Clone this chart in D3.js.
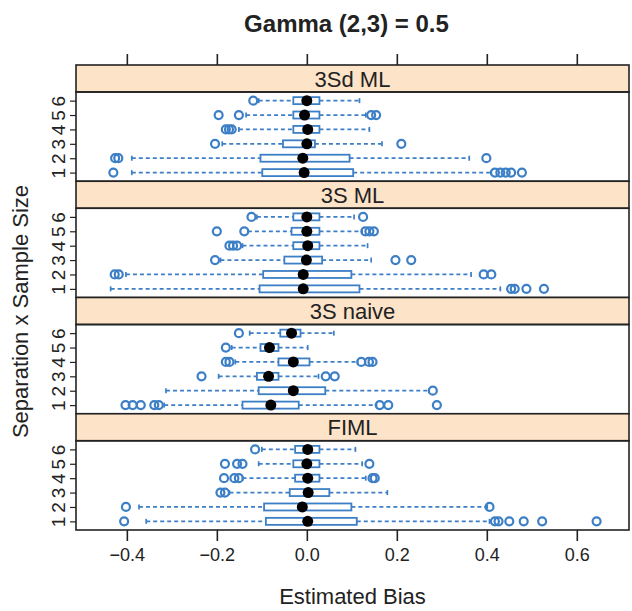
<!DOCTYPE html>
<html>
<head>
<meta charset="utf-8">
<script src="https://cdn.jsdelivr.net/npm/d3@7"></script>
<style>
  body { margin: 0; background: #fff; }
  text { font-family: "Liberation Sans", Arial, sans-serif; }
</style>
</head>
<body>
<div id="container"></div>
<script>
/* DATA */
const panels = ["3Sd ML", "3S ML", "3S naive", "FIML"];
const sizes = ["1", "2", "3", "4", "5", "6"];
const xTicks = [-0.4, -0.2, 0.0, 0.2, 0.4, 0.6];

// per row (1..6): [low whisker, q1, median, q3, high whisker]
const statsSdML = [
  [-0.389, -0.099, -0.006, 0.103, 0.41],
  [-0.389, -0.103, -0.009, 0.095, 0.361],
  [-0.188, -0.053, 0.0, 0.018, 0.167],
  [-0.151, -0.03, 0.002, 0.028, 0.139],
  [-0.135, -0.03, -0.005, 0.028, 0.131],
  [-0.107, -0.03, 0.0, 0.028, 0.117]
];
const outSdML = [
  [-0.43, 0.418, 0.43, 0.442, 0.454, 0.478],
  [-0.426, -0.419, 0.399],
  [-0.204, 0.21],
  [-0.18, -0.173, -0.167],
  [-0.196, -0.151, 0.143, 0.154],
  [-0.119]
];

const statsSML = [
  [-0.436, -0.105, -0.008, 0.117, 0.43],
  [-0.402, -0.097, -0.008, 0.099, 0.365],
  [-0.192, -0.05, -0.001, 0.034, 0.143],
  [-0.143, -0.03, 0.002, 0.028, 0.135],
  [-0.131, -0.034, 0.0, 0.028, 0.123],
  [-0.111, -0.03, 0.0, 0.028, 0.105]
];
const outSML = [
  [0.454, 0.462, 0.488, 0.527],
  [-0.427, -0.418, 0.393, 0.41],
  [-0.204, 0.197, 0.232],
  [-0.172, -0.164, -0.155],
  [-0.2, -0.139, 0.13, 0.139, 0.149],
  [-0.123, 0.125]
];

const statsNaive = [
  [-0.317, -0.143, -0.08, -0.018, 0.155],
  [-0.313, -0.107, -0.03, 0.041, 0.272],
  [-0.196, -0.111, -0.085, -0.063, 0.026],
  [-0.159, -0.063, -0.03, 0.006, 0.113],
  [-0.167, -0.103, -0.083, -0.063, 0.002],
  [-0.127, -0.059, -0.034, -0.014, 0.06]
];
const outNaive = [
  [-0.403, -0.387, -0.369, -0.339, -0.329, 0.162, 0.181, 0.289],
  [0.28],
  [-0.234, 0.042, 0.062],
  [-0.18, -0.172, 0.121, 0.138, 0.146],
  [-0.18],
  [-0.151]
];

const statsFIML = [
  [-0.357, -0.091, 0.002, 0.111, 0.406],
  [-0.373, -0.095, -0.01, 0.099, 0.401],
  [-0.172, -0.038, 0.003, 0.05, 0.179],
  [-0.143, -0.026, 0.002, 0.028, 0.131],
  [-0.107, -0.03, 0.0, 0.028, 0.123],
  [-0.1, -0.026, 0.002, 0.028, 0.108]
];
const outFIML = [
  [-0.406, 0.418, 0.426, 0.45, 0.482, 0.523, 0.644],
  [-0.402, 0.406],
  [-0.192, -0.182],
  [-0.184, -0.161, -0.151, 0.146, 0.151],
  [-0.182, -0.155, -0.143, 0.139],
  [-0.115]
];

const allStats = [statsSdML, statsSML, statsNaive, statsFIML];
const allOut = [outSdML, outSML, outNaive, outFIML];

/* LAYOUT */
const width = 632, height = 611;
const plot = {left: 76, right: 629, top: 65, bottom: 530};
const stripH = 27;
const blue = "#3d7fc6";
const ink = "#222";

const svg = d3.select("#container").append("svg")
  .attr("width", width).attr("height", height);

const x = d3.scaleLinear().domain([-0.513, 0.716]).range([plot.left, plot.right]);
const panelY = d3.scaleBand().domain(panels).range([plot.top, plot.bottom]);

// title
svg.append("text")
  .attr("x", (plot.left + plot.right) / 2 - 6).attr("y", 32)
  .attr("text-anchor", "middle")
  .style("font-size", "24px").style("font-weight", "bold").attr("fill", ink)
  .text("Gamma (2,3) = 0.5");

// top and bottom axes
svg.append("g")
  .attr("transform", `translate(0,${plot.top})`)
  .call(d3.axisTop(x).tickValues(xTicks).tickSize(11).tickFormat(""))
  .call(g => g.select(".domain").remove())
  .call(g => g.selectAll("line").attr("stroke-width", 1.6).attr("stroke", ink));

svg.append("g")
  .attr("transform", `translate(0,${plot.bottom})`)
  .call(d3.axisBottom(x).tickValues(xTicks).tickSize(11).tickPadding(7)
    .tickFormat(d => d3.format(".1f")(d).replace("-", "\u2212")))
  .call(g => g.select(".domain").remove())
  .call(g => g.selectAll("line").attr("stroke-width", 1.6).attr("stroke", ink))
  .call(g => g.selectAll("text").style("font-size", "18px")
    .style("font-family", "Liberation Sans, Arial, sans-serif").attr("fill", ink));

// axis labels
svg.append("text")
  .attr("x", (plot.left + plot.right) / 2).attr("y", 604)
  .attr("text-anchor", "middle")
  .style("font-size", "22px").attr("fill", ink)
  .text("Estimated Bias");

svg.append("text")
  .attr("transform", `translate(28,${(plot.top + plot.bottom) / 2 + 14}) rotate(-90)`)
  .attr("text-anchor", "middle")
  .style("font-size", "22px").attr("fill", ink)
  .text("Separation x Sample Size");

/* PANELS */
panels.forEach((name, pi) => {
  const top = panelY(name);
  const bot = top + panelY.bandwidth();
  const stats = allStats[pi];
  const outs = allOut[pi];

  const y = d3.scalePoint().domain(sizes)
    .range([bot, top + stripH]).padding(0.6);

  const g = svg.append("g");

  // strip
  g.append("rect")
    .attr("x", plot.left).attr("y", top)
    .attr("width", plot.right - plot.left).attr("height", stripH)
    .attr("fill", "#fde3c8").attr("stroke", ink).attr("stroke-width", 1.6);
  g.append("text")
    .attr("x", (plot.left + plot.right) / 2).attr("y", top + stripH / 2 + 8)
    .attr("text-anchor", "middle")
    .style("font-size", "22px").attr("fill", ink)
    .text(name);

  // y axis (left)
  const ya = g.append("g")
    .attr("transform", `translate(${plot.left},0)`)
    .call(d3.axisLeft(y).tickSize(6).tickPadding(3))
    .call(a => a.select(".domain").remove())
    .call(a => a.selectAll("line").attr("stroke-width", 1.2).attr("stroke", ink));
  ya.selectAll("text")
    .attr("x", -18).attr("dy", 0)
    .attr("transform", "rotate(-90,-18,0)")
    .attr("text-anchor", "middle").attr("dominant-baseline", "central")
    .style("font-size", "19px").style("font-family", "Liberation Sans, Arial, sans-serif")
    .attr("fill", ink);

  const rows = g.selectAll(".row").data(stats).join("g")
    .attr("class", "row")
    .attr("transform", (d, i) => `translate(0,${y(sizes[i])})`);

  // whiskers
  rows.append("line")
    .attr("x1", d => x(d[0])).attr("x2", d => x(d[1]))
    .attr("stroke", blue).attr("stroke-width", 1.7).attr("stroke-dasharray", "4,3");
  rows.append("line")
    .attr("x1", d => x(d[3])).attr("x2", d => x(d[4]))
    .attr("stroke", blue).attr("stroke-width", 1.7).attr("stroke-dasharray", "4,3");
  // staples
  rows.selectAll(".cap").data(d => [d[0], d[4]]).join("line")
    .attr("class", "cap")
    .attr("x1", d => x(d)).attr("x2", d => x(d))
    .attr("y1", -2.5).attr("y2", 2.5)
    .attr("stroke", blue).attr("stroke-width", 1.7);
  // box
  rows.append("rect")
    .attr("x", d => x(d[1])).attr("width", d => x(d[3]) - x(d[1]))
    .attr("y", -3.5).attr("height", 7)
    .attr("fill", "#fff").attr("stroke", blue).attr("stroke-width", 1.8);
  // outliers
  rows.each(function(d, i) {
    d3.select(this).selectAll(".out").data(outs[i]).join("circle")
      .attr("class", "out")
      .attr("cx", v => x(v)).attr("cy", 0).attr("r", 4)
      .attr("fill", "none").attr("stroke", blue).attr("stroke-width", 2.2);
  });
  // median dot
  rows.append("circle")
    .attr("cx", d => x(d[2])).attr("cy", 0).attr("r", 5.5)
    .attr("fill", "#000");

  // panel border
  g.append("rect")
    .attr("x", plot.left).attr("y", top + stripH)
    .attr("width", plot.right - plot.left).attr("height", panelY.bandwidth() - stripH)
    .attr("fill", "none").attr("stroke", ink).attr("stroke-width", 1.6);
});
</script>
</body>
</html>
